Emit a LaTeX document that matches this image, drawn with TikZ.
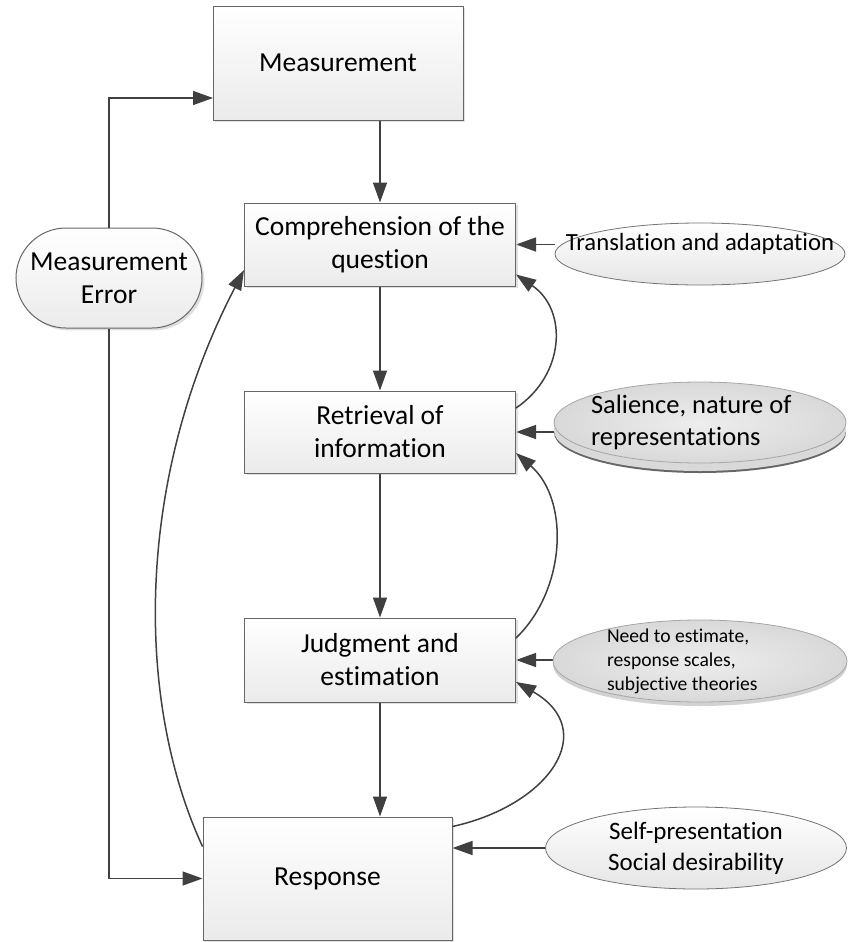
\documentclass[tikz,border=0pt]{standalone}
\usepackage{fontspec}
\setmainfont{Carlito}[Ligatures=NoCommon]
\usetikzlibrary{shapes.geometric,arrows.meta,shadows,backgrounds}
\tikzset{
  stagebox/.style = {shape=rectangle, draw=black!60, line width=0.5pt,
                     align=center, inner sep=0pt,
                     top color=white, bottom color=black!8,
                     drop shadow={shadow xshift=1.2pt, shadow yshift=-1.2pt,
                                  fill=black!25, opacity=0.5},
                     font=\fontsize{13.75}{16.5}\selectfont},
  errorbox/.style = {stagebox, rounded corners=25pt},
  factor/.style   = {shape=ellipse, draw=black!55, line width=0.4pt,
                     inner xsep=-20pt, inner ysep=-6pt,
                     top color=white, bottom color=black!10},
  stone/.style    = {factor, draw=black!35, inner color=black!7, outer color=black!15},
  softstone/.style = {stone, drop shadow={shadow xshift=0pt, shadow yshift=-2pt,
                                          fill=black!35, opacity=0.5}},
  layered/.style  = {stone,
                     general shadow={shadow xshift=0pt, shadow yshift=-5pt, fill=black!60},
                     general shadow={shadow xshift=0pt, shadow yshift=-4pt, fill=black!15}},
  flow/.style     = {draw=black!75, line width=0.75pt,
                     -{Triangle[length=10pt,width=7pt]}}
}
\begin{document}
\begin{tikzpicture}[x=0.5pt, y=-0.5pt]
  \useasboundingbox (0,0) rectangle (847,942);

  \node [stagebox, minimum width=125pt, minimum height=57pt] (meas) at (338,63) {Measurement};
  \node [stagebox, minimum width=135.5pt, minimum height=41.5pt] (comp) at (380,244.5) {Comprehension of the\\question};
  \node [stagebox, minimum width=135.5pt, minimum height=41pt] (ret) at (380,432) {Retrieval of\\information};
  \node [stagebox, minimum width=135.5pt, minimum height=42pt] (judg) at (380,660) {Judgment and\\estimation};
  \node [stagebox, minimum width=124.5pt, minimum height=61.5pt] (resp) at (327.5,878.5) {Response};
  \node [errorbox, minimum width=93pt, minimum height=50pt] (merr) at (109,278) {Measurement\\Error};

  \node [factor, minimum width=145pt, minimum height=31pt, text depth=11.6pt,
         font=\fontsize{12.35}{15}\selectfont] (trans) at (700,254) {Translation and adaptation};
  \node [layered, minimum width=146pt, minimum height=40.5pt, text width=109pt, align=flush left,
         font=\fontsize{13.25}{16}\selectfont] (sal) at (700,422.5) {Salience, nature of\\representations};
  \node [softstone, minimum width=147pt, minimum height=41pt, text width=93pt, align=flush left,
         font=\fontsize{9.8}{12}\selectfont] (need) at (700,661) {Need to estimate,\\response scales,\\subjective theories};
  \node [factor, minimum width=150.5pt, minimum height=41pt, align=center,
         font=\fontsize{12.5}{15.5}\selectfont] (self) at (696,848) {Self-presentation\\Social desirability};

  \coordinate (errin) at (213,98);
  \draw [flow] (merr.north) |- (errin);
  \draw [flow] (merr.south) |- (resp.west);

  \draw [flow] (meas.south -| comp.north) -- (comp.north);
  \draw [flow] (comp) -- (ret);
  \draw [flow] (ret) -- (judg);
  \draw [flow] (judg.south) -- (judg.south |- resp.north);

  \begin{scope}[on background layer]
    \draw [flow] (trans.west |- comp.east) -- (comp.east);
    \draw [flow] (sal.west |- ret.east) -- (ret.east);
    \draw [flow] (need.west |- judg.east) -- (judg.east);
    \draw [flow] (self.west) -- (self.west -| resp.east);
  \end{scope}

  \draw [flow] ([yshift=12pt]ret.east) .. controls (565,375) and (568,310) .. ([yshift=-15pt]comp.east);
  \draw [flow] ([yshift=11pt]judg.east) .. controls (566,590) and (570,500) .. ([yshift=-10.5pt]ret.east);
  \draw [flow] ([yshift=-5pt]resp.north east) .. controls (550,805) and (600,730) .. ([yshift=-11pt]judg.east);
  \draw [flow] ([yshift=-15pt]resp.north west) .. controls (135,700) and (135,480) .. ([yshift=-12.75pt]comp.west);
\end{tikzpicture}
\end{document}
